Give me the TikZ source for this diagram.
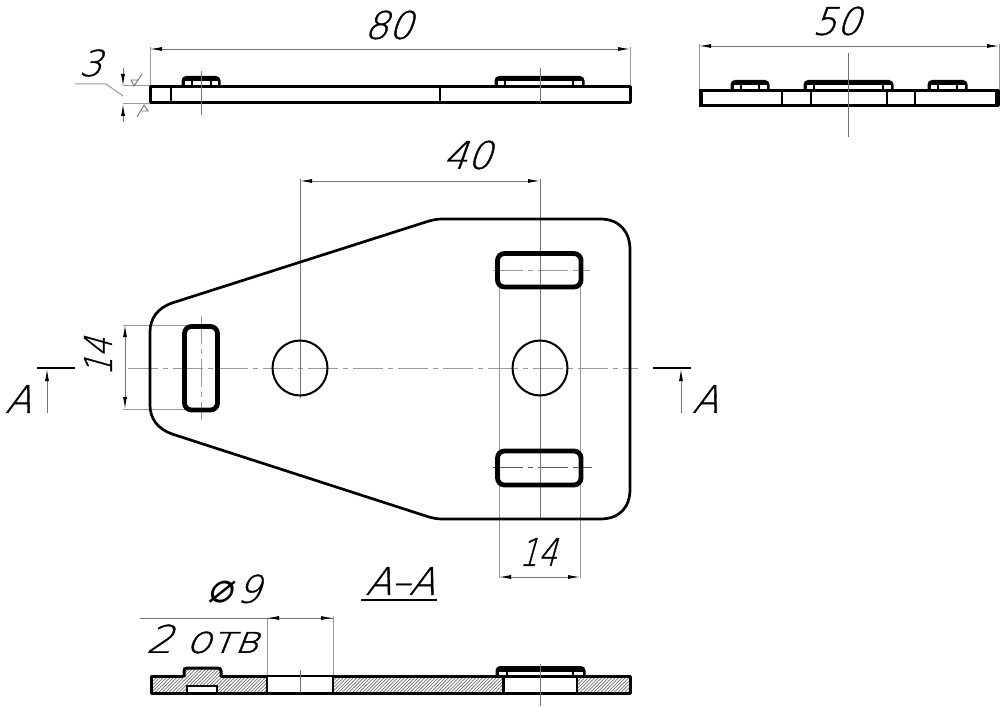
\documentclass[tikz,border=0pt]{standalone}
\usepackage{fontspec}
\usetikzlibrary{arrows.meta}
\newfontfamily\gost[FakeSlant=0.36,FakeBold=0.9]{DejaVu Sans ExtraLight}
\newfontfamily\gostsym[FakeSlant=0.25]{DejaVu Sans}
\newcommand{\lbl}[2]{\fontsize{#1}{#1}\selectfont\gost #2}
\tikzset{
  x=1pt,y=-1pt,
  body/.style={draw=black,line width=3pt,line join=round},
  edge/.style={draw=black,line width=2.8pt},
  slot/.style={draw=black,line width=4.8pt,rounded corners=7pt},
  thin line/.style={draw=black!55,line width=0.9pt},
  ext/.style={draw=black!40,line width=1pt},
  axis/.style={draw=black!40,line width=0.9pt,dash pattern=on 30pt off 5pt on 5pt off 5pt},
  dim/.style={draw=black!55,line width=0.9pt,{Latex[length=12pt,width=4pt,black]}-{Latex[length=12pt,width=4pt,black]}},
  tip/.style={draw=black!55,line width=0.9pt,-{Latex[length=12pt,width=4pt,black]}},
  txt/.style={inner sep=0pt,text=black},
  hatch/.style={draw=black!55,line width=0.7pt},
}
\newcommand{\bump}[6]{% x1,x2,inner1,inner2,top,base
  \fill[black] (#1-1.5,#6) [rounded corners=4.5pt] -- (#1-1.5,#5) -- (#2+1.5,#5) [sharp corners] -- (#2+1.5,#6) -- cycle;
  \fill[white] (#1+1.5,#5+5.5) rectangle (#2-1.5,#6);
  \draw[black,line width=2.8pt] (#3,#5+4) -- (#3,#6) (#4,#5+4) -- (#4,#6);
}
\begin{document}
\begin{tikzpicture}
\useasboundingbox (0,0) rectangle (1000,708);
% ---- top view
\draw[ext] (150,47) -- (150,86) (630,47) -- (630,86);
\draw[dim] (150,49) -- (630,49);
\node[txt] (n80) at (388,25) {\lbl{38}{80}};
\bump{183}{219}{192}{211}{76}{87}
\bump{496}{583}{505}{573}{76}{87}
\draw[body] (150.5,87) rectangle (630,103);
\draw[edge] (171,87) -- (171,103) (440,87) -- (440,103);
\draw[thin line] (201,71) -- (201,115) (540,68) -- (540,103);
% thickness 3
\node[txt] (n3) at (90,63) {\lbl{36}{3}};
\draw[ext] (75,84) -- (106,84) -- (123,96);
\draw[ext] (123,86) -- (150,86) (123,104) -- (150,104);
\draw[tip] (123,68) -- (123,86);
\draw[tip] (123,122) -- (123,104);
\draw[thin line] (142,74) -- (134,86) -- (131,80) -- (138,80);
\draw[thin line] (137,117) -- (144,105) -- (148,111) -- (141,111);
% ---- side view
\draw[ext] (699,44) -- (699,90) (999,44) -- (999,90);
\draw[dim] (699,46) -- (999,46);
\node[txt] (n50) at (836,21) {\lbl{38}{50}};
\bump{732}{768}{741}{759}{80}{91}
\bump{805}{892}{814}{883}{80}{91}
\bump{929}{966}{938}{957}{80}{91}
\draw[body] (700,91) rectangle (998,106);
\draw[line width=4.5pt] (701,89.5) -- (701,107.5) (997,89.5) -- (997,107.5);
\draw[edge] (782,91) -- (782,106) (811,91) -- (811,106) (887,91) -- (887,106) (915,91) -- (915,106);
\draw[thin line] (848,53) -- (848,137);
% ---- plan
\draw[ext] (499,287) -- (499,578) (580,287) -- (580,578);
\draw[ext] (123,325) -- (200,325) (123,409) -- (200,409);
\draw[axis] (128,368) -- (638,368);
\draw[axis,dash pattern=on 28pt off 5pt on 5pt off 5pt] (201,316) -- (201,420);
\draw[axis,dash pattern=on 30pt off 5pt on 5pt off 5pt] (493,270) -- (590,270);
\draw[axis,black!65,dash pattern=on 30pt off 5pt on 5pt off 5pt] (493,467) -- (592,467);
\draw[thin line] (300,179) -- (300,398) (540,179) -- (540,519);
\draw[line width=2.7pt] (600,219) .. controls (620,219) and (630,232) .. (630,250) -- (630,489) .. controls (630,507) and (620,519) .. (600,519) -- (442,519) .. controls (437,519) and (433,518) .. (429,517) -- (172,434) .. controls (158,429) and (150,419) .. (150,405) -- (150,332) .. controls (150,318) and (158,308) .. (172,303) -- (429,221) .. controls (433,220) and (437,219) .. (442,219) -- cycle;
\draw[line width=2pt] (300,368) circle (27.5);
\draw[line width=2pt] (540,368) circle (27.5);
\draw[slot] (497.5,253.5) rectangle (581,287);
\draw[slot] (497.5,451) rectangle (581,485);
\draw[slot] (184.5,326.5) rectangle (217.5,410);
\draw[dim] (300,181) -- (540,181);
\node[txt] (n40) at (467,155) {\lbl{38}{40}};
\draw[dim] (499,577) -- (580,577);
\node[txt,xscale=0.78] (n14b) at (538,552) {\lbl{38}{14}};
\draw[dim] (125,325) -- (125,409);
\node[txt,rotate=90,xscale=0.78] (n14a) at (98,357) {\lbl{38}{14}};
% section marks
\draw[line width=2.4pt] (37,368) -- (75,368);
\draw[tip] (47,413) -- (47,369);
\node[txt] (aL) at (18,399) {\lbl{38}{A}};
\draw[line width=2.4pt] (653,368) -- (691,368);
\draw[tip] (681,413) -- (681,369);
\node[txt] (aR) at (705,399) {\lbl{38}{A}};
% ---- section
\node[txt] (aa) at (400,581) {\lbl{38}{A–A}};
\draw[line width=1.8pt] (361,600) -- (437,600);
\node[txt] (phi) at (234,589) {\fontsize{38}{38}\selectfont{\fontsize{42}{42}\selectfont\gostsym\char"2300}\kern3pt\gost 9};
\node[txt,xscale=1.1] (otv) at (202,639) {\lbl{38}{2 отв}};
\draw[ext] (267,618) -- (267,676) (333,616) -- (333,676);
\draw[thin line] (140,618) -- (333,618);
\draw[tip] (283,618) -- (267,618);
\draw[tip] (317,618) -- (333,618);
% hatching
\begin{scope}
\clip (151,676) -- (183,676) -- (183,667) -- (221,667) -- (221,676) -- (267,676) -- (267,693) -- (151,693) -- cycle
      (333,676) rectangle (503,693) (577,676) rectangle (630,693);
\foreach \k in {0,3.4,...,520} { \draw[hatch] (140+\k,694) -- (140+\k+30,664); }
\end{scope}
\fill[white] (187,686) rectangle (217,693);
\bump{497}{584}{507}{573}{666}{676}
\draw[body] (183,676) -- (151,676) -- (151,693) -- (630,693) -- (630,676) -- (333,676);
\draw[body] (221,676) -- (267,676);
\draw[body,rounded corners=3pt] (184,677) -- (184,668) -- (221,668) -- (221,677);
\draw[edge] (187,693) -- (187,686) -- (217,686) -- (217,693);
\draw[edge] (267,676) -- (267,693) (333,676) -- (333,693) (267,676) -- (333,676);
\draw[edge] (503.5,676) -- (503.5,693) (577,676) -- (577,693) (503.5,676) -- (577,676);
\draw[thin line] (300,670) -- (300,693) (540,664) -- (540,706);
\end{tikzpicture}
\end{document}
